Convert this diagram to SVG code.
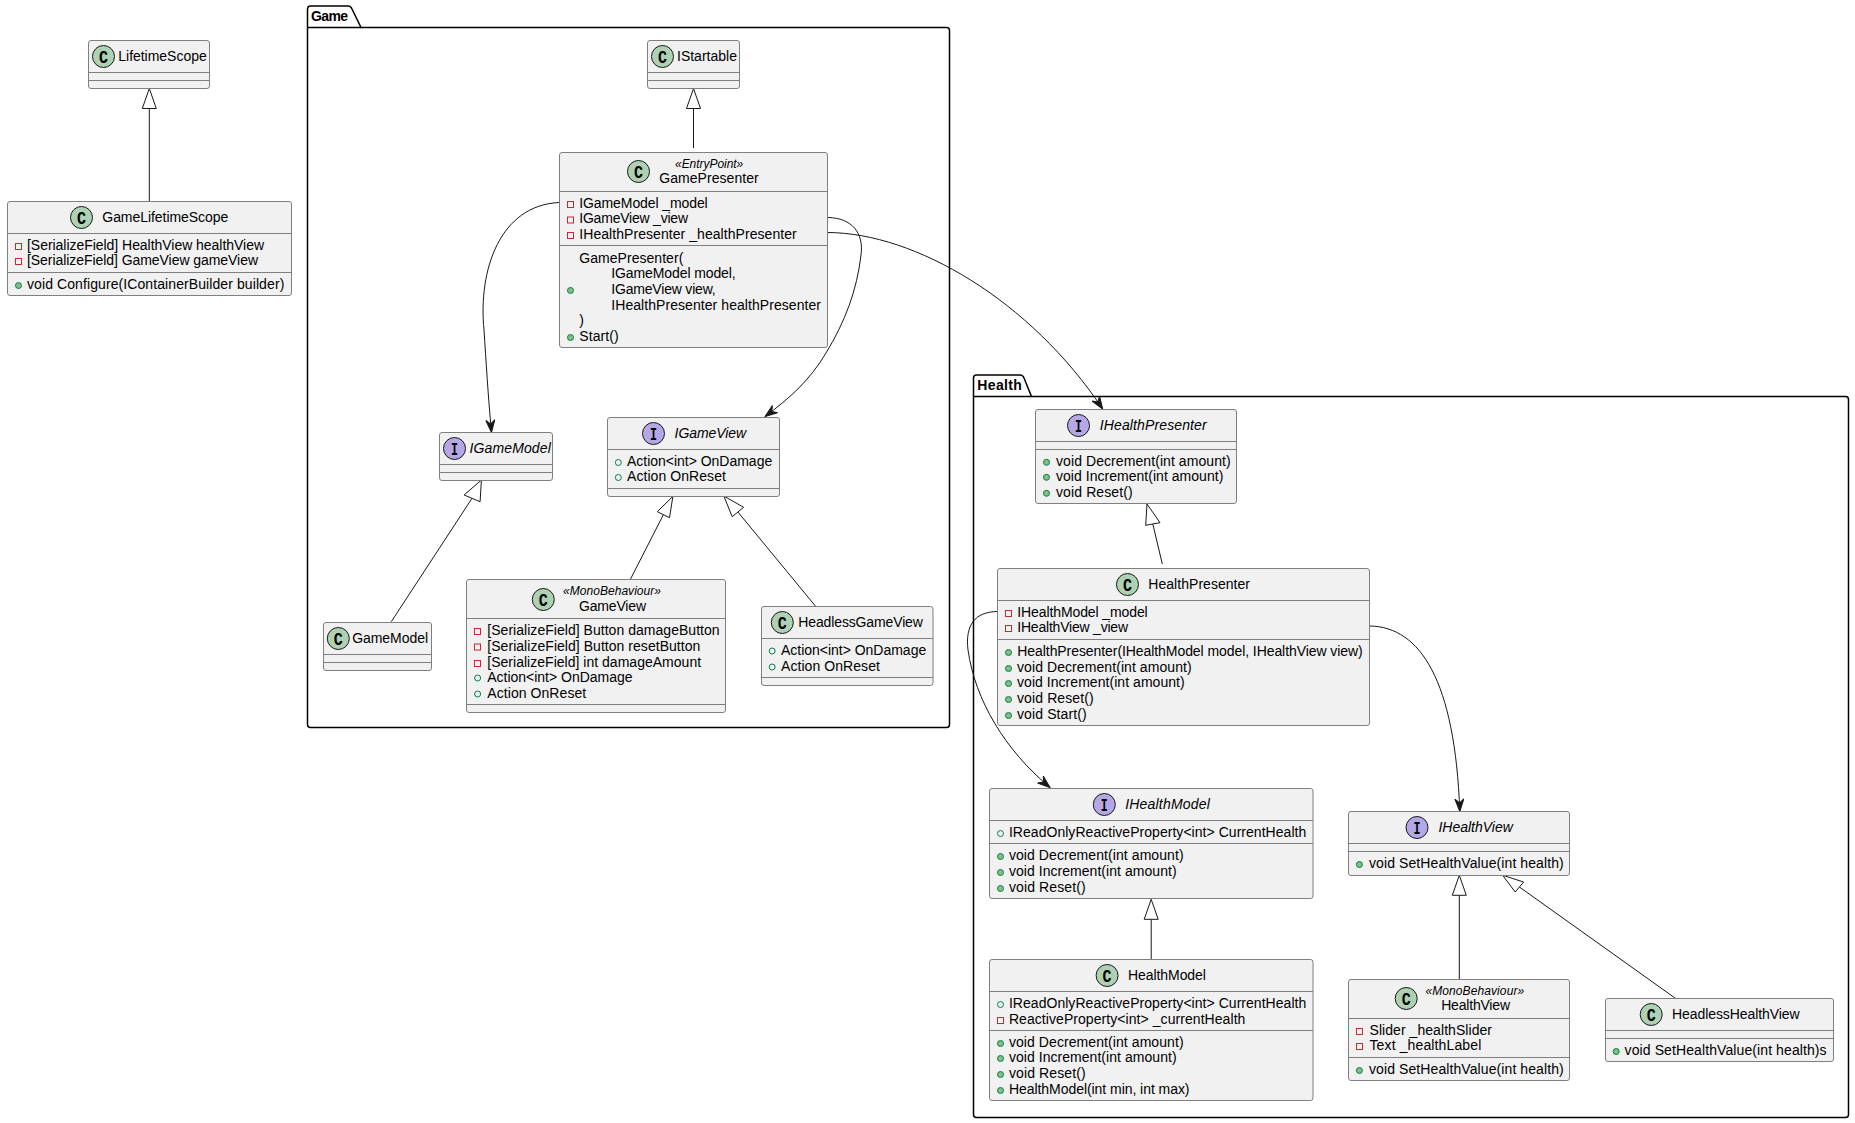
<svg xmlns="http://www.w3.org/2000/svg" width="1855" height="1123" viewBox="0 0 1855 1123">
<style>
text{font-family:"Liberation Sans",Arial,sans-serif;font-size:14px;fill:#000}
.it{font-style:italic}
.st{font-style:italic;font-size:12px}
.b{fill:#f1f1f1;stroke:#7f7f7f;stroke-width:1}
.d{stroke:#7f7f7f;stroke-width:1}
.pk{fill:#fff;stroke:#000;stroke-width:1.5}
.pt{font-weight:bold}
.e{fill:none;stroke:#181818;stroke-width:1}
.ci{fill:#add1b2;stroke:#181818;stroke-width:1}
.ii{fill:#b4a7e5;stroke:#181818;stroke-width:1}
.g{font-family:"Liberation Mono",monospace;font-weight:bold;font-size:19px;text-anchor:middle}
.pv{fill:none;stroke:#c82930;stroke-width:1}
.pu{fill:#84be84;stroke:#038048;stroke-width:1}
.puo{fill:none;stroke:#038048;stroke-width:1}
.hd{fill:#fff;stroke:#181818;stroke-width:1}
.a{marker-end:url(#arrow)}
</style>
<defs><marker id="arrow" markerUnits="userSpaceOnUse" markerWidth="14" markerHeight="10" viewBox="0 0 14 10" refX="13" refY="5" orient="auto"><path d="M13 5L0.500 0.500L4.500 5L0.500 9.500Z" fill="#181818" stroke="#181818" stroke-width="1"/></marker></defs>
<rect width="1855" height="1123" fill="#fff"/>
<g id="pkg-game"><path class="pk" d="M307.500 27.500V9.500Q307.500 6 310.500 6H348Q351 6 352 9L361 27.500H946.500Q949.500 27.500 949.500 30.500V724.500Q949.500 727.500 946.500 727.500H310.500Q307.500 727.500 307.500 724.500Z"/><path class="pk" d="M307.500 27.500H361"/><text class="pt" x="311" y="21" textLength="37">Game</text></g>
<g id="pkg-health"><path class="pk" d="M973.500 396.500V378Q973.500 375 976.500 375H1020Q1023 375 1024 378L1031.500 396.500H1845.500Q1848.500 396.500 1848.500 399.500V1114.500Q1848.500 1117.500 1845.500 1117.500H976.500Q973.500 1117.500 973.500 1114.500Z"/><path class="pk" d="M973.500 396.500H1031.500"/><text class="pt" x="977.300" y="390" textLength="44.500">Health</text></g>

<g id="connectors">
<path class="e" d="M149.300 108.500V201"/><path class="hd" d="M149.300 88.500L142.300 108.500H156.300Z"/>
<path class="e" d="M693.500 108.500V148"/><path class="hd" d="M693.500 88.500L686.500 108.500H700.500Z"/>
<path class="e a" d="M559.500 202.500C500 205 478 270 484 330C486 360 488 395 491.500 432.500"/>
<path class="e a" d="M828 217.500C852 218 864 233 861 255C857 290 845 322 826 353C810 380 790 398 765 416.500"/>
<path class="e a" d="M828 232.500C915 233 1030 300 1102.700 409"/>
<path class="e" d="M1162.300 564L1152.800 524"/><path class="hd" d="M1147 504L1145.700 525.300L1160 522.700Z"/>
<path class="e a" d="M997 611.500C975 612 965 625 968 650C975 700 1005 750 1050 787.500"/>
<path class="e a" d="M1370 626C1420 627 1455 680 1459.800 811.500"/>
<path class="e" d="M1151.200 919.300V959"/><path class="hd" d="M1151.200 899.300L1144.200 919.300H1158.200Z"/>
<path class="e" d="M1459.300 895.300V979"/><path class="hd" d="M1459.300 875.300L1452.300 895.300H1466.300Z"/>
<path class="e" d="M1675.400 998.300L1519.400 887"/><path class="hd" d="M1502.700 875.300L1515.200 892L1523.600 882Z"/>
<path class="e" d="M391.300 621.700L472 498.300"/><path class="hd" d="M481.400 480L464.100 495L480.100 501.700Z"/>
<path class="e" d="M630.400 579.300L663.400 514.700"/><path class="hd" d="M672.900 496.300L657.300 511.700L669.500 517.700Z"/>
<path class="e" d="M815.600 606.300L737.900 512"/><path class="hd" d="M723.800 496L732.200 516.700L743.600 507.300Z"/>
</g>

<g id="LifetimeScope"><rect class="b" x="88.500" y="40.500" width="121" height="48" rx="2.500"/><path class="d" d="M88.500 72.500H209.500M88.500 80.500H209.500"/><circle class="ci" cx="103.500" cy="56.500" r="11"/><text class="g" x="103.500" y="62.500" textLength="9" lengthAdjust="spacingAndGlyphs">C</text><text x="118.300" y="61" textLength="88.400">LifetimeScope</text></g>
<g id="GameLifetimeScope"><rect class="b" x="7.500" y="201.500" width="284" height="94" rx="2.500"/><path class="d" d="M7.500 233.500H291.500M7.500 272.500H291.500"/><circle class="ci" cx="81.500" cy="217.500" r="11"/><text class="g" x="81.500" y="223.500" textLength="9" lengthAdjust="spacingAndGlyphs">C</text><text x="102.300" y="222" textLength="126">GameLifetimeScope</text><rect class="pv" x="15.500" y="243.500" width="6" height="6"/><text x="27" y="250" textLength="237">[SerializeField] HealthView healthView</text><rect class="pv" x="15.500" y="258.500" width="6" height="6"/><text x="27" y="265" textLength="231">[SerializeField] GameView gameView</text><circle class="pu" cx="18.500" cy="285.500" r="3"/><text x="27" y="289" textLength="257.300">void Configure(IContainerBuilder builder)</text></g>

<g id="IStartable"><rect class="b" x="647.500" y="40.500" width="92" height="48" rx="2.500"/><path class="d" d="M647.500 72.500H739.500M647.500 80.500H739.500"/><circle class="ci" cx="662.500" cy="56.500" r="11"/><text class="g" x="662.500" y="62.500" textLength="9" lengthAdjust="spacingAndGlyphs">C</text><text x="677" y="61">IStartable</text></g>
<g id="GamePresenter"><rect class="b" x="559.500" y="152.500" width="268" height="195" rx="2.500"/><path class="d" d="M559.500 191.500H827.500M559.500 245.500H827.500"/><circle class="ci" cx="638.500" cy="171.500" r="11"/><text class="g" x="638.500" y="177.500" textLength="9" lengthAdjust="spacingAndGlyphs">C</text><text class="st" x="675" y="168" textLength="68.300">«EntryPoint»</text><text x="659.300" y="183" textLength="99.400">GamePresenter</text><rect class="pv" x="567.500" y="201.500" width="6" height="6"/><text x="579.300" y="208" textLength="128.400">IGameModel _model</text><rect class="pv" x="567.500" y="217" width="6" height="6"/><text x="579.300" y="223" textLength="108.700">IGameView _view</text><rect class="pv" x="567.500" y="232.500" width="6" height="6"/><text x="579.300" y="239" textLength="217.400">IHealthPresenter _healthPresenter</text><text x="579.300" y="263" textLength="104">GamePresenter(</text><text x="611.300" y="278" textLength="124.400">IGameModel model,</text><circle class="pu" cx="570.500" cy="290.500" r="3"/><text x="611.300" y="294" textLength="104.400">IGameView view,</text><text x="611.300" y="310" textLength="209.700">IHealthPresenter healthPresenter</text><text x="579.300" y="325">)</text><circle class="pu" cx="570.500" cy="337.500" r="3"/><text x="579.300" y="341" textLength="39.300">Start()</text></g>
<g id="IGameModel"><rect class="b" x="439.500" y="432.500" width="113" height="48" rx="2.500"/><path class="d" d="M439.500 464.500H552.500M439.500 472.500H552.500"/><circle class="ii" cx="454.500" cy="448.500" r="11"/><text class="g" x="454.500" y="454.500" textLength="7" lengthAdjust="spacingAndGlyphs">I</text><text class="it" x="469.600" y="453" textLength="81.200">IGameModel</text></g>
<g id="IGameView"><rect class="b" x="607.500" y="417.500" width="172" height="79" rx="2.500"/><path class="d" d="M607.500 449.500H779.500M607.500 488.500H779.500"/><circle class="ii" cx="653.500" cy="433.500" r="11"/><text class="g" x="653.500" y="439.500" textLength="7" lengthAdjust="spacingAndGlyphs">I</text><text class="it" x="674.600" y="438" textLength="71.500">IGameView</text><circle class="puo" cx="618.300" cy="462.500" r="3"/><text x="627" y="466" textLength="145.200">Action&lt;int&gt; OnDamage</text><circle class="puo" cx="618.300" cy="477.500" r="3"/><text x="627" y="481" textLength="98.900">Action OnReset</text></g>
<g id="GameModel"><rect class="b" x="323.500" y="622.500" width="108" height="48" rx="2.500"/><path class="d" d="M323.500 654.500H431.500M323.500 662.500H431.500"/><circle class="ci" cx="338.300" cy="638.500" r="11"/><text class="g" x="338.300" y="644.500" textLength="9" lengthAdjust="spacingAndGlyphs">C</text><text x="352.200" y="643" textLength="75.800">GameModel</text></g>
<g id="GameView"><rect class="b" x="466.500" y="579.500" width="259" height="133" rx="2.500"/><path class="d" d="M466.500 618.500H725.500M466.500 704.500H725.500"/><circle class="ci" cx="543.300" cy="599.500" r="11"/><text class="g" x="543.300" y="605.500" textLength="9" lengthAdjust="spacingAndGlyphs">C</text><text class="st" x="563" y="595" textLength="98">«MonoBehaviour»</text><text x="579" y="611" textLength="67">GameView</text><rect class="pv" x="474.500" y="628.500" width="6" height="6"/><text x="487.300" y="635" textLength="232.300">[SerializeField] Button damageButton</text><rect class="pv" x="474.500" y="644" width="6" height="6"/><text x="487.300" y="651" textLength="213">[SerializeField] Button resetButton</text><rect class="pv" x="474.500" y="660.500" width="6" height="6"/><text x="487.300" y="667" textLength="213.800">[SerializeField] int damageAmount</text><circle class="puo" cx="477.600" cy="678" r="3"/><text x="487.300" y="682" textLength="145.200">Action&lt;int&gt; OnDamage</text><circle class="puo" cx="477.600" cy="694" r="3"/><text x="487.300" y="698" textLength="98.900">Action OnReset</text></g>
<g id="HeadlessGameView"><rect class="b" x="761.500" y="606.500" width="171.500" height="79" rx="2.500"/><path class="d" d="M761.500 638.500H933M761.500 677.500H933"/><circle class="ci" cx="782.300" cy="622.500" r="11"/><text class="g" x="782.300" y="628.500" textLength="9" lengthAdjust="spacingAndGlyphs">C</text><text x="798.300" y="627" textLength="124.600">HeadlessGameView</text><circle class="puo" cx="772.200" cy="651" r="3"/><text x="781" y="655" textLength="145.200">Action&lt;int&gt; OnDamage</text><circle class="puo" cx="772.200" cy="667" r="3"/><text x="781" y="671" textLength="98.900">Action OnReset</text></g>

<g id="IHealthPresenter"><rect class="b" x="1035.500" y="409.500" width="201" height="94" rx="2.500"/><path class="d" d="M1035.500 441.500H1236.500M1035.500 449.500H1236.500"/><circle class="ii" cx="1078.500" cy="425.500" r="11"/><text class="g" x="1078.500" y="431.500" textLength="7" lengthAdjust="spacingAndGlyphs">I</text><text class="it" x="1099.700" y="430" textLength="107">IHealthPresenter</text><circle class="pu" cx="1046.500" cy="462.300" r="3"/><text x="1056" y="466" textLength="174.700">void Decrement(int amount)</text><circle class="pu" cx="1046.500" cy="477.300" r="3"/><text x="1056" y="481" textLength="167.300">void Increment(int amount)</text><circle class="pu" cx="1046.500" cy="493.300" r="3"/><text x="1056" y="497" textLength="76.700">void Reset()</text></g>
<g id="HealthPresenter"><rect class="b" x="997.500" y="568.500" width="372" height="157" rx="2.500"/><path class="d" d="M997.500 600.500H1369.500M997.500 639.500H1369.500"/><circle class="ci" cx="1127.500" cy="584.500" r="11"/><text class="g" x="1127.500" y="590.500" textLength="9" lengthAdjust="spacingAndGlyphs">C</text><text x="1148.300" y="589" textLength="101.700">HealthPresenter</text><rect class="pv" x="1005.500" y="610.500" width="6" height="6"/><text x="1017.300" y="617" textLength="130.400">IHealthModel _model</text><rect class="pv" x="1005.500" y="625.500" width="6" height="6"/><text x="1017.300" y="632" textLength="110.700">IHealthView _view</text><circle class="pu" cx="1008.500" cy="652.500" r="3"/><text x="1017.300" y="656" textLength="345.400">HealthPresenter(IHealthModel model, IHealthView view)</text><circle class="pu" cx="1008.500" cy="668.500" r="3"/><text x="1017" y="672" textLength="174.700">void Decrement(int amount)</text><circle class="pu" cx="1008.500" cy="683.500" r="3"/><text x="1017" y="687" textLength="167.700">void Increment(int amount)</text><circle class="pu" cx="1008.500" cy="699.500" r="3"/><text x="1017" y="703" textLength="76.700">void Reset()</text><circle class="pu" cx="1008.500" cy="715.500" r="3"/><text x="1017" y="719" textLength="69.700">void Start()</text></g>
<g id="IHealthModel"><rect class="b" x="989.500" y="788.500" width="323.500" height="110" rx="2.500"/><path class="d" d="M989.500 820.500H1313M989.500 843.500H1313"/><circle class="ii" cx="1104.300" cy="804.500" r="11"/><text class="g" x="1104.300" y="810.500" textLength="7" lengthAdjust="spacingAndGlyphs">I</text><text class="it" x="1125.200" y="809" textLength="84.600">IHealthModel</text><circle class="puo" cx="1000.500" cy="833.500" r="3"/><text x="1008.900" y="837" textLength="297.400">IReadOnlyReactiveProperty&lt;int&gt; CurrentHealth</text><circle class="pu" cx="1000.500" cy="856.500" r="3"/><text x="1008.900" y="860" textLength="174.700">void Decrement(int amount)</text><circle class="pu" cx="1000.500" cy="872.500" r="3"/><text x="1008.900" y="876" textLength="167.700">void Increment(int amount)</text><circle class="pu" cx="1000.500" cy="888.500" r="3"/><text x="1008.900" y="892" textLength="76.700">void Reset()</text></g>
<g id="HealthModel"><rect class="b" x="989.500" y="959.500" width="323.500" height="141" rx="2.500"/><path class="d" d="M989.500 991.500H1313M989.500 1030.500H1313"/><circle class="ci" cx="1107.100" cy="975.500" r="11"/><text class="g" x="1107.100" y="981.500" textLength="9" lengthAdjust="spacingAndGlyphs">C</text><text x="1128" y="980" textLength="77.900">HealthModel</text><circle class="puo" cx="1000.500" cy="1004.500" r="3"/><text x="1008.900" y="1008" textLength="297.400">IReadOnlyReactiveProperty&lt;int&gt; CurrentHealth</text><rect class="pv" x="997.500" y="1017.500" width="6" height="6"/><text x="1008.900" y="1024" textLength="236.500">ReactiveProperty&lt;int&gt; _currentHealth</text><circle class="pu" cx="1000.500" cy="1043.500" r="3"/><text x="1008.900" y="1047" textLength="174.700">void Decrement(int amount)</text><circle class="pu" cx="1000.500" cy="1058.500" r="3"/><text x="1008.900" y="1062" textLength="167.700">void Increment(int amount)</text><circle class="pu" cx="1000.500" cy="1074.500" r="3"/><text x="1008.900" y="1078" textLength="76.700">void Reset()</text><circle class="pu" cx="1000.500" cy="1090.500" r="3"/><text x="1008.900" y="1094" textLength="180.600">HealthModel(int min, int max)</text></g>
<g id="IHealthView"><rect class="b" x="1348.500" y="811.500" width="221" height="64" rx="2.500"/><path class="d" d="M1348.500 843.500H1569.500M1348.500 851.500H1569.500"/><circle class="ii" cx="1417" cy="827.500" r="11"/><text class="g" x="1417" y="833.500" textLength="7" lengthAdjust="spacingAndGlyphs">I</text><text class="it" x="1438.400" y="832" textLength="74.500">IHealthView</text><circle class="pu" cx="1359.400" cy="864.500" r="3"/><text x="1369" y="868" textLength="194.700">void SetHealthValue(int health)</text></g>
<g id="HealthView"><rect class="b" x="1348.500" y="979.500" width="221" height="101" rx="2.500"/><path class="d" d="M1348.500 1018.500H1569.500M1348.500 1057.500H1569.500"/><circle class="ci" cx="1406.200" cy="998.500" r="11"/><text class="g" x="1406.200" y="1004.500" textLength="9" lengthAdjust="spacingAndGlyphs">C</text><text class="st" x="1425.400" y="995" textLength="98.800">«MonoBehaviour»</text><text x="1441.200" y="1010" textLength="68.800">HealthView</text><rect class="pv" x="1356.500" y="1028.500" width="6" height="6"/><text x="1369.500" y="1035" textLength="122.500">Slider _healthSlider</text><rect class="pv" x="1356.500" y="1043.500" width="6" height="6"/><text x="1369.500" y="1050" textLength="111.800">Text _healthLabel</text><circle class="pu" cx="1359.400" cy="1070.500" r="3"/><text x="1369" y="1074" textLength="194.700">void SetHealthValue(int health)</text></g>
<g id="HeadlessHealthView"><rect class="b" x="1605.500" y="998.500" width="228" height="63" rx="2.500"/><path class="d" d="M1605.500 1030.500H1833.500M1605.500 1038.500H1833.500"/><circle class="ci" cx="1651.200" cy="1014.500" r="11"/><text class="g" x="1651.200" y="1020.500" textLength="9" lengthAdjust="spacingAndGlyphs">C</text><text x="1672" y="1019" textLength="127.600">HeadlessHealthView</text><circle class="pu" cx="1616.200" cy="1051.500" r="3"/><text x="1624.600" y="1055" textLength="202">void SetHealthValue(int health)s</text></g>
</svg>
